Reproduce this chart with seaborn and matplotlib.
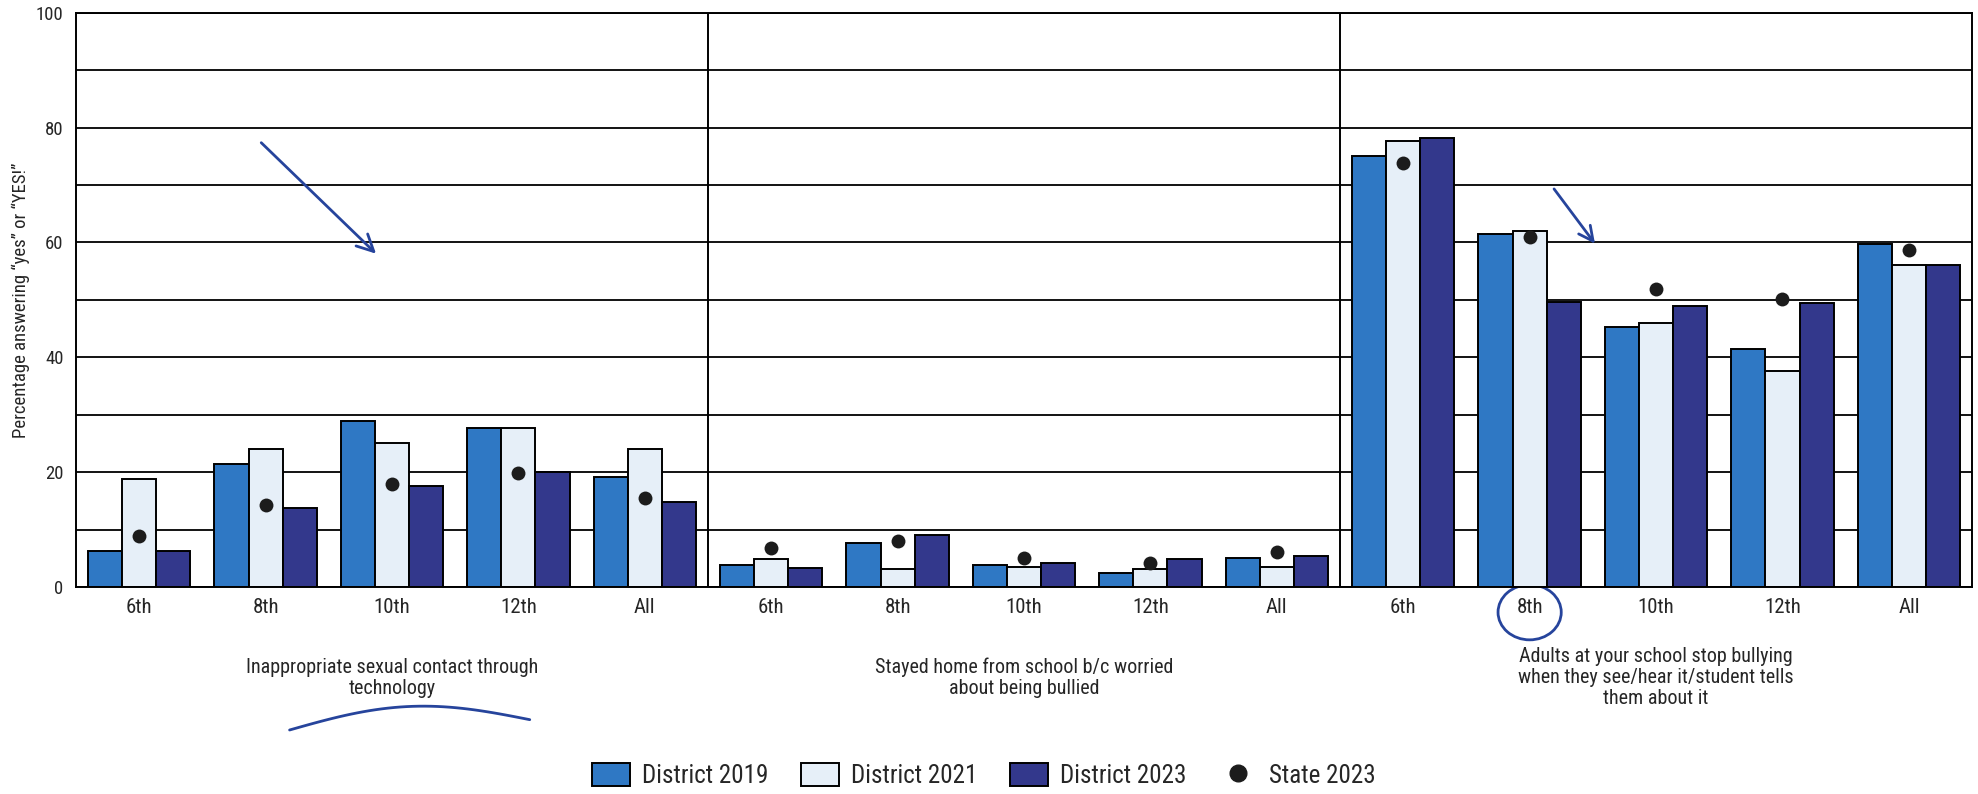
import numpy as np
import pandas as pd
import matplotlib
matplotlib.use("Agg")
import matplotlib.pyplot as plt
import matplotlib.patches as mpatches
from matplotlib.lines import Line2D
import seaborn as sns

# data
grades = ["6th", "8th", "10th", "12th", "All"]
topics = ["Inappropriate sexual contact through\ntechnology",
          "Stayed home from school b/c worried\nabout being bullied",
          "Adults at your school stop bullying\nwhen they see/hear it/student tells\nthem about it"]
series = ["District 2019", "District 2021", "District 2023"]
d2019 = [6.2, 21.5, 28.9, 27.7, 19.1, 3.9, 7.7, 3.9, 2.4, 5.1, 75.0, 61.4, 45.3, 41.5, 59.7]
d2021 = [18.8, 24.0, 25.0, 27.7, 24.0, 4.8, 3.1, 3.5, 3.2, 3.5, 77.6, 62.0, 46.0, 37.6, 56.0]
d2023 = [6.2, 13.8, 17.6, 20.0, 14.8, 3.3, 9.1, 4.2, 4.8, 5.4, 78.2, 49.6, 49.0, 49.5, 56.1]
state = [8.8, 14.2, 18.0, 19.9, 15.5, 6.8, 8.0, 5.0, 4.2, 6.1, 73.9, 61.0, 51.9, 50.2, 58.7]

colors = ["#2f78c4", "#e6eff8", "#33388c"]

keys = [f"{p}-{g}" for p in range(len(topics)) for g in grades]
df = pd.DataFrame({"key": keys * 3,
                   "series": np.repeat(series, len(keys)),
                   "value": d2019 + d2021 + d2023})
st = pd.DataFrame({"key": keys, "value": state})

sns.set_style("white")
plt.rcParams['font.family'] = ['Liberation Sans Narrow', 'DejaVu Sans Condensed',
                               'Roboto Condensed', 'DejaVu Sans']

fig = plt.figure(figsize=(19.78, 7.94), dpi=100)
ax = fig.add_axes([0.0384, 0.2607, 0.9586, 0.7233])

sns.barplot(data=df, x="key", y="value", hue="series", order=keys,
            hue_order=series, palette=colors, saturation=1, width=0.81,
            edgecolor="black", linewidth=1.4, errorbar=None, legend=False,
            ax=ax, zorder=2)
sns.stripplot(data=st, x="key", y="value", order=keys, jitter=False,
              color="#1c1c1c", size=10, linewidth=0, ax=ax, zorder=4)

ax.set_xlim(-0.5, len(keys) - 0.5)
ax.set_ylim(0, 100)
ax.set_axisbelow(True)

# y axis: labels every 20, lines every 10
ax.set_yticks(range(0, 101, 20))
ax.set_yticks(range(10, 100, 20), minor=True)
ax.grid(True, axis="y", which="both", color="black", linewidth=1.3)
ax.tick_params(axis="y", which="major", length=7, width=1.3, color="black",
               labelsize=13.5, pad=2)
ax.tick_params(axis="y", which="minor", length=0)

# x axis: labels in the middle, ticks on the group borders
ax.set_xticks(range(len(keys)))
ax.set_xticklabels(grades * len(topics))
ax.set_xticks(np.arange(-0.5, len(keys), 1), minor=True)
ax.tick_params(axis="x", which="major", length=0, labelsize=15, pad=8)
ax.tick_params(axis="x", which="minor", length=7, width=1.3, color="black",
               direction="out")
ax.set_xlabel("")
ax.set_ylabel("Percentage answering \u201cyes\u201d or \u201cYES!\u201d", fontsize=13.5, labelpad=4)

for s in ax.spines.values():
    s.set_color("black")
    s.set_linewidth(1.4)
for b in [4.5, 9.5]:
    ax.axvline(b, color="black", linewidth=1.4, zorder=1)

for i, t in enumerate(topics):
    ax.text(i * 5 + 2, -0.158, t, transform=ax.get_xaxis_transform(),
            ha="center", va="center", multialignment="center",
            fontsize=14.5, linespacing=1.15)

handles = [mpatches.Patch(facecolor=c, edgecolor="black", linewidth=1.4, label=s)
           for c, s in zip(colors, series)]
handles.append(Line2D([], [], marker="o", linestyle="none", color="#1c1c1c",
                      markersize=12, label="State 2023"))
fig.legend(handles=handles, loc="center", bbox_to_anchor=(0.4975, 0.023), ncol=4,
           frameon=False, fontsize=18, handlelength=1.5, handleheight=1.0,
           columnspacing=1.3, handletextpad=0.5)

# handwritten ink marks on the scan
ink = "#26449c"
ax.annotate("", xy=(1.89, 57.7), xytext=(0.95, 77.7),
            arrowprops=dict(arrowstyle="->", color=ink, lw=2, mutation_scale=30))
ax.annotate("", xy=(11.53, 59.4), xytext=(11.18, 69.7),
            arrowprops=dict(arrowstyle="->", color=ink, lw=2, mutation_scale=26))
ax.add_patch(mpatches.Ellipse((11.0, -4.4), 0.5, 9.6, fill=False, edgecolor=ink,
                              linewidth=2, clip_on=False))
ux = np.linspace(1.19, 3.09, 40)
uy = -24.9 + (ux - 1.19) * (1.8 / 1.9) + 3.2 * np.sin(np.pi * (ux - 1.19) / 1.9)
ax.plot(ux, uy, color=ink, linewidth=2, clip_on=False)

fig.savefig("out.png", dpi=100, facecolor="white")
